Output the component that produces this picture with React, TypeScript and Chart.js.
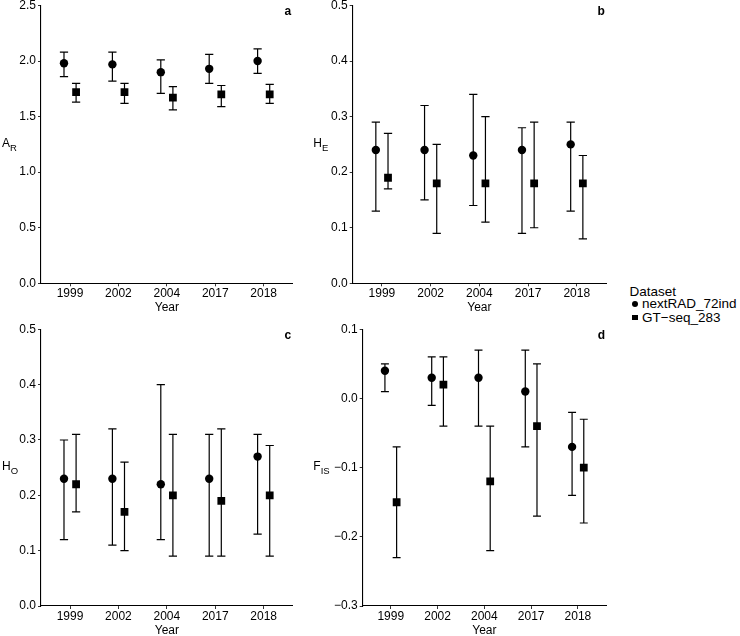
import React, { useEffect, useRef } from "react";
import { Chart, registerables } from "chart.js";

Chart.register(...registerables);

const FONT = "'Liberation Sans', Arial, Helvetica, sans-serif";
const INK = "#000";

// Sampling years shown on every panel
const years = ["1999", "2002", "2004", "2017", "2018"];
const seriesNames = ["nextRAD_72ind", "GT\u2212seq_283"];

// Allelic richness (A_R)
const arNextRAD = [1.98, 1.97, 1.9, 1.93, 2.0];
const arNextRADLow = [1.86, 1.82, 1.71, 1.8, 1.89];
const arNextRADHigh = [2.08, 2.08, 2.01, 2.06, 2.11];
const arGTseq = [1.72, 1.72, 1.67, 1.7, 1.7];
const arGTseqLow = [1.63, 1.62, 1.56, 1.59, 1.62];
const arGTseqHigh = [1.8, 1.8, 1.77, 1.78, 1.79];

// Expected heterozygosity (H_E)
const heNextRAD = [0.24, 0.24, 0.23, 0.24, 0.25];
const heNextRADLow = [0.13, 0.15, 0.14, 0.09, 0.13];
const heNextRADHigh = [0.29, 0.32, 0.34, 0.28, 0.29];
const heGTseq = [0.19, 0.18, 0.18, 0.18, 0.18];
const heGTseqLow = [0.17, 0.09, 0.11, 0.1, 0.08];
const heGTseqHigh = [0.27, 0.25, 0.3, 0.29, 0.23];

// Observed heterozygosity (H_O)
const hoNextRAD = [0.23, 0.23, 0.22, 0.23, 0.27];
const hoNextRADLow = [0.12, 0.11, 0.12, 0.09, 0.13];
const hoNextRADHigh = [0.3, 0.32, 0.4, 0.31, 0.31];
const hoGTseq = [0.22, 0.17, 0.2, 0.19, 0.2];
const hoGTseqLow = [0.17, 0.1, 0.09, 0.09, 0.09];
const hoGTseqHigh = [0.31, 0.26, 0.31, 0.32, 0.29];

// Inbreeding coefficient (F_IS)
const fisNextRAD = [0.04, 0.03, 0.03, 0.01, -0.07];
const fisNextRADLow = [0.01, -0.01, -0.04, -0.07, -0.14];
const fisNextRADHigh = [0.05, 0.06, 0.07, 0.07, -0.02];
const fisGTseq = [-0.15, 0.02, -0.12, -0.04, -0.1];
const fisGTseqLow = [-0.23, -0.04, -0.22, -0.17, -0.18];
const fisGTseqHigh = [-0.07, 0.06, -0.04, 0.05, -0.03];

// Y tick values per panel
const arTicks = [0, 0.5, 1.0, 1.5, 2.0, 2.5];
const heTicks = [0, 0.1, 0.2, 0.3, 0.4, 0.5];
const hoTicks = [0, 0.1, 0.2, 0.3, 0.4, 0.5];
const fisTicks = [-0.3, -0.2, -0.1, 0.0, 0.1];

const DODGE = 0.125; // horizontal offset of the two datasets, in category units
const CAP = 0.085; // half width of the error-bar caps, in category units

type Series = { values: number[]; low: number[]; high: number[] };
type PanelSpec = {
  tag: string;
  symbol: string;
  sub: string;
  ticks: number[];
  nextRAD: Series;
  gtseq: Series;
  box: { left: number; top: number; width: number; height: number };
  plot: { left: number; top: number; right: number; bottom: number };
  titleX: number;
};

const panels: PanelSpec[] = [
  {
    tag: "a",
    symbol: "A",
    sub: "R",
    ticks: arTicks,
    nextRAD: { values: arNextRAD, low: arNextRADLow, high: arNextRADHigh },
    gtseq: { values: arGTseq, low: arGTseqLow, high: arGTseqHigh },
    box: { left: 0, top: 0, width: 300, height: 318 },
    plot: { left: 41, top: 5.3, right: 292.7, bottom: 283.3 },
    titleX: 2,
  },
  {
    tag: "b",
    symbol: "H",
    sub: "E",
    ticks: heTicks,
    nextRAD: { values: heNextRAD, low: heNextRADLow, high: heNextRADHigh },
    gtseq: { values: heGTseq, low: heGTseqLow, high: heGTseqHigh },
    box: { left: 311, top: 0, width: 309, height: 318 },
    plot: { left: 352.7, top: 5.3, right: 606, bottom: 283.3 },
    titleX: 2.3,
  },
  {
    tag: "c",
    symbol: "H",
    sub: "O",
    ticks: hoTicks,
    nextRAD: { values: hoNextRAD, low: hoNextRADLow, high: hoNextRADHigh },
    gtseq: { values: hoGTseq, low: hoGTseqLow, high: hoGTseqHigh },
    box: { left: 0, top: 318, width: 300, height: 318 },
    plot: { left: 41, top: 329.3, right: 292.7, bottom: 606 },
    titleX: 2,
  },
  {
    tag: "d",
    symbol: "F",
    sub: "IS",
    ticks: fisTicks,
    nextRAD: { values: fisNextRAD, low: fisNextRADLow, high: fisNextRADHigh },
    gtseq: { values: fisGTseq, low: fisGTseqLow, high: fisGTseqHigh },
    box: { left: 311, top: 318, width: 309, height: 318 },
    plot: { left: 362.7, top: 329.3, right: 606, bottom: 606 },
    titleX: 2.3,
  },
];

// Vertical error bars with caps, drawn underneath the points
const errorBars = {
  id: "errorBars",
  beforeDatasetsDraw(chart: any) {
    const { ctx } = chart;
    const x = chart.scales.x;
    const y = chart.scales.y;
    ctx.save();
    ctx.strokeStyle = INK;
    ctx.lineWidth = 1.2;
    chart.data.datasets.forEach((ds: any) => {
      ds.data.forEach((pt: any, i: number) => {
        const px = x.getPixelForValue(pt.x);
        const half = Math.abs(x.getPixelForValue(pt.x + CAP) - px);
        const yl = y.getPixelForValue(ds.lower[i]);
        const yh = y.getPixelForValue(ds.upper[i]);
        ctx.beginPath();
        ctx.moveTo(px, yl);
        ctx.lineTo(px, yh);
        ctx.moveTo(px - half, yl);
        ctx.lineTo(px + half, yl);
        ctx.moveTo(px - half, yh);
        ctx.lineTo(px + half, yh);
        ctx.stroke();
      });
    });
    ctx.restore();
  },
};

// Axis titles (with subscripts) and the panel tag
const panelDecor = {
  id: "panelDecor",
  afterDraw(chart: any, _args: any, opts: any) {
    const { ctx, chartArea: a } = chart;
    const x = chart.scales.x;
    ctx.save();
    ctx.fillStyle = INK;
    ctx.textBaseline = "alphabetic";

    ctx.font = `12px ${FONT}`;
    ctx.textAlign = "center";
    ctx.fillText("Year", (a.left + a.right) / 2, a.bottom + 27.5);

    const mid = (a.top + a.bottom) / 2;
    ctx.textAlign = "left";
    ctx.fillText(opts.symbol, opts.titleX, mid + 2.8);
    const w = ctx.measureText(opts.symbol).width;
    ctx.font = `9.5px ${FONT}`;
    ctx.fillText(opts.sub, opts.titleX + w, mid + 6.3);

    ctx.font = `bold 12px ${FONT}`;
    ctx.textAlign = "center";
    ctx.fillText(opts.tag, x.getPixelForValue(5.5), a.top + 9.5);
    ctx.restore();
  },
};

function fmt(v: number) {
  const s = (Math.abs(v) < 1e-9 ? 0 : v).toFixed(1);
  return s.replace("-", "\u2212");
}

function Panel({ spec }: { spec: PanelSpec }) {
  const ref = useRef<HTMLCanvasElement>(null);

  useEffect(() => {
    const { box, plot } = spec;
    const yWidth = plot.left - box.left;
    const xHeight = box.top + box.height - plot.bottom;
    const padTop = plot.top - box.top;
    const padRight = box.left + box.width - plot.right;

    const makeSet = (s: Series, shift: number, style: string, radius: number, label: string) => ({
      label,
      data: s.values.map((v, i) => ({ x: i + 1 + shift, y: v })),
      lower: s.low,
      upper: s.high,
      pointStyle: style,
      pointRadius: radius,
      pointHoverRadius: radius,
      backgroundColor: INK,
      borderColor: INK,
      borderWidth: 0,
      showLine: false,
    });

    const chart = new Chart(ref.current!, {
      type: "scatter",
      data: {
        datasets: [
          makeSet(spec.nextRAD, -DODGE, "circle", 4.2, seriesNames[0]),
          makeSet(spec.gtseq, DODGE, "rect", 5.5, seriesNames[1]),
        ] as any,
      },
      options: {
        animation: false,
        responsive: false,
        events: [],
        layout: { padding: { left: 0, top: padTop, right: padRight, bottom: 0 } },
        plugins: {
          legend: { display: false },
          tooltip: { enabled: false },
          panelDecor: { symbol: spec.symbol, sub: spec.sub, tag: spec.tag, titleX: spec.titleX },
        } as any,
        scales: {
          x: {
            type: "linear",
            min: 0.4,
            max: 5.6,
            afterBuildTicks: (s: any) => {
              s.ticks = years.map((_, i) => ({ value: i + 1 }));
            },
            afterFit: (s: any) => {
              s.height = xHeight;
              s.paddingLeft = 0;
              s.paddingRight = 0;
            },
            ticks: {
              callback: (_v: any, i: number) => years[i],
              autoSkip: false,
              maxRotation: 0,
              color: INK,
              padding: 0,
              font: { family: FONT, size: 12 },
            },
            grid: {
              display: true,
              drawOnChartArea: false,
              drawTicks: true,
              tickLength: 3,
              color: "#333",
              lineWidth: 1,
            },
            border: { display: true, color: INK, width: 1.1 },
          },
          y: {
            type: "linear",
            min: spec.ticks[0],
            max: spec.ticks[spec.ticks.length - 1],
            afterBuildTicks: (s: any) => {
              s.ticks = spec.ticks.map((v) => ({ value: v }));
            },
            afterFit: (s: any) => {
              s.width = yWidth;
              s.paddingTop = 0;
              s.paddingBottom = 0;
            },
            ticks: {
              callback: (v: any) => fmt(Number(v)),
              autoSkip: false,
              color: INK,
              padding: 2,
              font: { family: FONT, size: 12 },
            },
            grid: {
              display: true,
              drawOnChartArea: false,
              drawTicks: true,
              tickLength: 3,
              color: "#333",
              lineWidth: 1,
            },
            border: { display: true, color: INK, width: 1.1 },
          },
        },
      } as any,
      plugins: [errorBars, panelDecor],
    });
    return () => chart.destroy();
  }, [spec]);

  return (
    <canvas
      ref={ref}
      width={spec.box.width}
      height={spec.box.height}
      style={{ position: "absolute", left: spec.box.left, top: spec.box.top }}
    />
  );
}

function Legend() {
  const text: React.CSSProperties = {
    position: "absolute",
    fontFamily: FONT,
    fontSize: 13.5,
    lineHeight: "13.5px",
    color: INK,
    whiteSpace: "nowrap",
  };
  return (
    <>
      <div style={{ ...text, left: 629.5, top: 285.3 }}>Dataset</div>
      <div
        style={{
          position: "absolute",
          left: 631.5,
          top: 300.7,
          width: 6,
          height: 6,
          borderRadius: "50%",
          background: INK,
        }}
      />
      <div style={{ ...text, left: 642, top: 296.6 }}>{seriesNames[0]}</div>
      <div
        style={{
          position: "absolute",
          left: 632,
          top: 314.8,
          width: 5.5,
          height: 5.5,
          background: INK,
        }}
      />
      <div style={{ ...text, left: 642, top: 310.6 }}>{seriesNames[1]}</div>
    </>
  );
}

export default function App() {
  return (
    <div
      style={{
        position: "fixed",
        left: 0,
        top: 0,
        width: 740,
        height: 636,
        background: "#fff",
        overflow: "hidden",
      }}
    >
      {panels.map((p) => (
        <Panel key={p.tag} spec={p} />
      ))}
      <Legend />
    </div>
  );
}
